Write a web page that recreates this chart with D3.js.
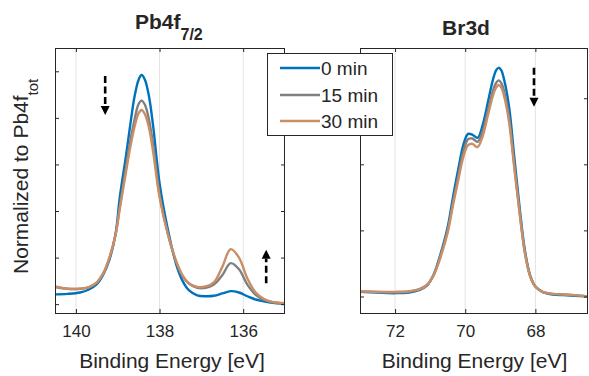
<!DOCTYPE html>
<html><head><meta charset="utf-8">
<script src="https://cdn.jsdelivr.net/npm/d3@7"></script>
<style>
body{margin:0;background:#fff}
svg{display:block}
text{font-family:"Liberation Sans",Arial,Helvetica,sans-serif;fill:#262626}
</style>
</head><body>
<svg id="chart" width="589" height="376"></svg>
<script>
// ---------------- data ----------------
const seriesNames = ["0 min", "15 min", "30 min"];
const seriesColors = ["#0072BD", "#808080", "#C98E66"];

// Pb4f 7/2 panel
const pbEnergy = [140.5, 140.2, 139.9, 139.7, 139.5, 139.35, 139.2, 139.05, 138.95, 138.8, 138.7, 138.6, 138.5, 138.43, 138.35, 138.25, 138.15, 138.0, 137.8, 137.6, 137.45, 137.3, 137.1, 136.9, 136.7, 136.5, 136.3, 136.1, 135.9, 135.7, 135.5, 135.3, 135.0];
const pb0  = [0.21, 0.22, 0.25, 0.31, 0.43, 0.63, 0.95, 1.52, 2.3, 3.2, 3.85, 4.45, 4.82, 4.92, 4.82, 4.45, 3.8, 2.6, 1.6, 0.85, 0.5, 0.3, 0.19, 0.17, 0.18, 0.23, 0.28, 0.25, 0.17, 0.1, 0.06, 0.03, 0.015];
const pb15 = [0.37, 0.33, 0.33, 0.36, 0.46, 0.65, 0.98, 1.5, 2.1, 2.95, 3.5, 3.95, 4.3, 4.37, 4.28, 3.95, 3.4, 2.35, 1.5, 0.9, 0.6, 0.44, 0.35, 0.35, 0.42, 0.62, 0.88, 0.75, 0.42, 0.2, 0.09, 0.04, 0.015];
const pb30 = [0.38, 0.33, 0.33, 0.36, 0.47, 0.66, 1.0, 1.5, 2.05, 2.85, 3.37, 3.8, 4.1, 4.17, 4.08, 3.78, 3.25, 2.3, 1.5, 0.92, 0.62, 0.45, 0.37, 0.38, 0.47, 0.8, 1.18, 1.0, 0.55, 0.25, 0.11, 0.05, 0.02];

// Br3d panel
const brEnergy = [73.0, 72.5, 72.0, 71.6, 71.3, 71.1, 70.9, 70.7, 70.5, 70.35, 70.2, 70.05, 69.92, 69.8, 69.65, 69.5, 69.35, 69.2, 69.12, 69.05, 68.97, 68.9, 68.75, 68.6, 68.45, 68.3, 68.15, 68.0, 67.8, 67.5, 67.2, 66.9, 66.5];
const br0  = [0.07, 0.06, 0.05, 0.06, 0.1, 0.16, 0.33, 0.65, 1.05, 1.5, 1.92, 2.3, 2.46, 2.45, 2.40, 2.6, 2.95, 3.3, 3.42, 3.46, 3.42, 3.3, 2.87, 2.1, 1.35, 0.7, 0.32, 0.15, 0.07, 0.03, 0.02, 0.01, 0.0];
const br15 = [0.07, 0.07, 0.06, 0.07, 0.11, 0.17, 0.33, 0.63, 1.0, 1.42, 1.82, 2.2, 2.38, 2.39, 2.34, 2.5, 2.82, 3.13, 3.23, 3.27, 3.23, 3.12, 2.7, 1.98, 1.28, 0.67, 0.31, 0.15, 0.07, 0.04, 0.03, 0.02, 0.0];
const br30 = [0.08, 0.07, 0.07, 0.08, 0.11, 0.17, 0.32, 0.6, 0.97, 1.38, 1.76, 2.12, 2.29, 2.31, 2.26, 2.43, 2.75, 3.06, 3.16, 3.2, 3.16, 3.05, 2.64, 1.94, 1.26, 0.66, 0.31, 0.15, 0.07, 0.04, 0.03, 0.02, 0.0];

const pbXTicks = [140, 138, 136];
const brXTicks = [72, 70, 68];
const pbYTicks = [0, 1, 2, 3, 4, 5];
const brYTicks = [0, 1, 2, 3];
const pbXDomain = [140.5, 135.0];
const brXDomain = [73.0, 66.5];
const pbYDomain = [-0.19, 5.5];
const brYDomain = [-0.25, 3.76];

// ---------------- drawing ----------------
const svg = d3.select("#chart");
const AX = "#262626";
const plotTop = 48, plotBottom = 313;

function panel(cfg) {
  const x = d3.scaleLinear().domain(cfg.xDomain).range([cfg.x0, cfg.x1]);
  const y = d3.scaleLinear().domain(cfg.yDomain).range([plotBottom, plotTop]);
  const g = svg.append("g");
  const clipId = "clip" + cfg.id;
  svg.append("clipPath").attr("id", clipId).append("rect")
    .attr("x", cfg.x0).attr("y", plotTop).attr("width", cfg.x1 - cfg.x0).attr("height", plotBottom - plotTop);

  // grid
  g.append("g").selectAll("line").data(cfg.xTicks).join("line")
    .attr("x1", d => x(d)).attr("x2", d => x(d)).attr("y1", plotTop).attr("y2", plotBottom)
    .attr("stroke", "#e3e3e3").attr("stroke-width", 1);

  // lines
  const line = d3.line().x(d => x(d[0])).y(d => y(d[1])).curve(d3.curveCatmullRom.alpha(0.5));
  const lg = g.append("g").attr("clip-path", `url(#${clipId})`);
  cfg.series.forEach((s, idx) => {
    lg.append("path")
      .datum(cfg.energy.map((e, k) => [e, s[k]]))
      .attr("d", line).attr("fill", "none")
      .attr("stroke", seriesColors[idx]).attr("stroke-width", 2.4)
      .attr("stroke-linejoin", "round");
  });

  // axes (inward ticks, mirrored box)
  const bAxis = d3.axisBottom(x).tickValues(cfg.xTicks).tickFormat(d3.format("d"))
    .tickSizeInner(-4).tickSizeOuter(0).tickPadding(12);
  const ab = g.append("g").attr("transform", `translate(0,${plotBottom})`).call(bAxis);
  ab.select(".domain").remove();
  ab.selectAll("line").attr("stroke", AX);
  ab.selectAll("text").attr("font-size", 17).attr("fill", AX)
    .attr("font-family", '"Liberation Sans",Arial,sans-serif').attr("dy", "0.71em");
  const tAxis = d3.axisTop(x).tickValues(cfg.xTicks).tickSizeInner(-4).tickSizeOuter(0).tickFormat("");
  const at = g.append("g").attr("transform", `translate(0,${plotTop})`).call(tAxis);
  at.select(".domain").remove(); at.selectAll("line").attr("stroke", AX);
  const lAxis = d3.axisLeft(y).tickValues(cfg.yTicks).tickSizeInner(-4).tickSizeOuter(0).tickFormat("");
  const al = g.append("g").attr("transform", `translate(${cfg.x0},0)`).call(lAxis);
  al.select(".domain").remove(); al.selectAll("line").attr("stroke", AX);
  const rAxis = d3.axisRight(y).tickValues(cfg.yTicks).tickSizeInner(-4).tickSizeOuter(0).tickFormat("");
  const ar = g.append("g").attr("transform", `translate(${cfg.x1},0)`).call(rAxis);
  ar.select(".domain").remove(); ar.selectAll("line").attr("stroke", AX);

  g.append("rect").attr("x", cfg.x0 + 0.5).attr("y", plotTop + 0.5)
    .attr("width", cfg.x1 - cfg.x0 - 1).attr("height", plotBottom - plotTop)
    .attr("fill", "none").attr("stroke", AX).attr("stroke-width", 1);

  // x label
  g.append("text").attr("x", cfg.labelX).attr("y", 368).attr("text-anchor", "middle")
    .attr("font-size", 21).text("Binding Energy [eV]");

  // arrows
  cfg.arrows.forEach(a => {
    const ax = x(a.e), ya = y(a.from), yb = y(a.to);
    const dir = yb > ya ? 1 : -1;
    const headLen = 9;
    g.append("line").attr("x1", ax).attr("x2", ax).attr("y1", ya).attr("y2", yb - dir * headLen)
      .attr("stroke", "#000").attr("stroke-width", 2.6).attr("stroke-dasharray", "7,3.5");
    g.append("path")
      .attr("d", `M${ax - 4.5},${yb - dir * headLen}L${ax + 4.5},${yb - dir * headLen}L${ax},${yb}Z`)
      .attr("fill", "#000");
  });
  return {x, y, g};
}

panel({
  id: "pb", x0: 55, x1: 285, xDomain: pbXDomain, yDomain: pbYDomain,
  xTicks: pbXTicks, yTicks: pbYTicks, energy: pbEnergy, series: [pb0, pb15, pb30],
  labelX: 172,
  arrows: [{e: 139.3, from: 4.9, to: 4.06}, {e: 135.45, from: 0.45, to: 1.17}]
});
panel({
  id: "br", x0: 360, x1: 588, xDomain: brXDomain, yDomain: brYDomain,
  xTicks: brXTicks, yTicks: brYTicks, energy: brEnergy, series: [br0, br15, br30],
  labelX: 474.5,
  arrows: [{e: 68.04, from: 3.46, to: 2.87}]
});

// titles
const t1 = svg.append("text").attr("x", 135).attr("y", 29).attr("font-weight", "bold").attr("font-size", 21);
t1.append("tspan").text("Pb4f");
t1.append("tspan").attr("font-size", 16).attr("dy", 11).text("7/2");
svg.append("text").attr("x", 466).attr("y", 35).attr("text-anchor", "middle")
  .attr("font-weight", "bold").attr("font-size", 21).text("Br3d");

// y label
const yl = svg.append("text").attr("transform", "translate(28,274) rotate(-90)")
  .attr("font-size", 21);
yl.append("tspan").text("Normalized to Pb4f");
yl.append("tspan").attr("font-size", 15).attr("dy", 10).text("tot");

// legend
const lgX = 267, lgY = 53, lgW = 125, lgH = 82;
const leg = svg.append("g");
leg.append("rect").attr("x", lgX + 0.5).attr("y", lgY + 0.5).attr("width", lgW).attr("height", lgH)
  .attr("fill", "#fff").attr("stroke", AX).attr("stroke-width", 1);
const rowY = [68, 95, 121];
seriesNames.forEach((n, i) => {
  leg.append("line").attr("x1", 280).attr("x2", 320).attr("y1", rowY[i]).attr("y2", rowY[i])
    .attr("stroke", seriesColors[i]).attr("stroke-width", 2.4);
  leg.append("text").attr("x", 321).attr("y", rowY[i] + 7).attr("font-size", 19).text(n);
});
</script>
</body></html>
